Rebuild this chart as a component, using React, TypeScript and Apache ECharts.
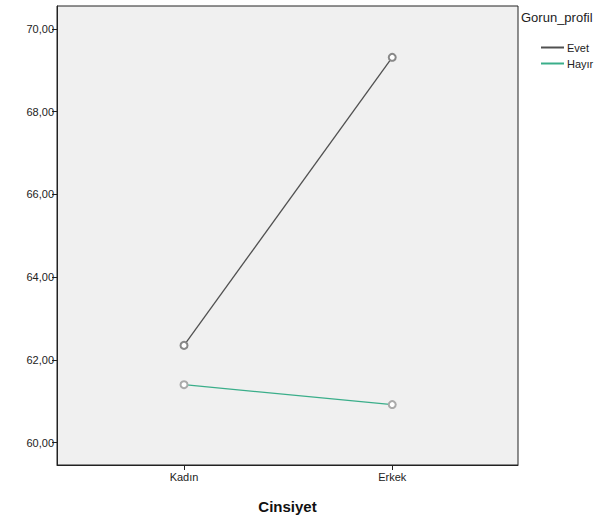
import React, { useEffect, useRef } from "react";
import * as echarts from "echarts";

const categories = ["Kadın", "Erkek"];
const seriesNames = ["Evet", "Hayır"];
const evetValues = [62.35, 69.31];
const hayirValues = [61.4, 60.92];
const yTicks = [60, 62, 64, 66, 68, 70];
const lineColors = ["#505050", "#3aae8a"];

export default function App() {
  const ref = useRef<HTMLDivElement>(null);
  useEffect(() => {
    document.body.style.margin = "0";
    const chart = echarts.init(ref.current!, null, { renderer: "svg" });
    const font = "'Liberation Sans', Arial, sans-serif";
    chart.setOption({
      animation: false,
      backgroundColor: "#ffffff",
      grid: {
        left: 57,
        right: 89,
        top: 6,
        bottom: 58,
        show: true,
        backgroundColor: "#f0f0f0",
        borderColor: "#222",
        borderWidth: 1,
      },
      xAxis: {
        type: "value",
        min: -0.61,
        max: 1.604,
        name: "Cinsiyet",
        nameLocation: "middle",
        nameGap: 34,
        nameTextStyle: { fontFamily: font, fontSize: 15, fontWeight: "bold", color: "#111" },
        axisLine: { show: true, onZero: false, lineStyle: { color: "#222", width: 1 } },
        axisTick: { show: true, customValues: [0, 1], length: 5, lineStyle: { color: "#222" } },
        axisLabel: {
          customValues: [0, 1],
          formatter: (v: number) => categories[Math.round(v)] ?? "",
          fontFamily: font,
          fontSize: 11,
          color: "#222",
          margin: 6,
        },
        splitLine: { show: false },
      },
      yAxis: {
        type: "value",
        min: 59.46,
        max: 70.55,
        axisLine: { show: true, onZero: false, lineStyle: { color: "#222", width: 1 } },
        axisTick: { show: true, customValues: yTicks, length: 5, lineStyle: { color: "#222" } },
        axisLabel: {
          customValues: yTicks,
          formatter: (v: number) => v.toFixed(2).replace(".", ","),
          fontFamily: font,
          fontSize: 11,
          color: "#222",
          margin: 3,
        },
        splitLine: { show: false },
      },
      legend: {
        orient: "vertical",
        left: 536,
        top: 37,
        itemWidth: 23,
        itemHeight: 2,
        itemGap: 5,
        icon: "rect",
        textStyle: { fontFamily: font, fontSize: 11, color: "#222", padding: [0, 0, 0, -2] },
        data: seriesNames.map((n, i) => ({ name: n, itemStyle: { color: lineColors[i] } })),
      },
      graphic: [
        {
          type: "text",
          left: 521,
          top: 11,
          style: { text: "Gorun_profil", fontFamily: font, fontSize: 13, fill: "#222" },
        },
      ],
      series: [
        {
          name: seriesNames[0],
          type: "line",
          data: evetValues.map((v, i) => [i, v]),
          symbol: "emptyCircle",
          symbolSize: 7,
          lineStyle: { color: lineColors[0], width: 1.3 },
          itemStyle: { color: "#888", borderWidth: 1 },
        },
        {
          name: seriesNames[1],
          type: "line",
          data: hayirValues.map((v, i) => [i, v]),
          symbol: "emptyCircle",
          symbolSize: 7,
          lineStyle: { color: lineColors[1], width: 1.3 },
          itemStyle: { color: "#aaa", borderWidth: 1 },
        },
      ],
    });
    return () => chart.dispose();
  }, []);
  return <div ref={ref} style={{ width: 607, height: 523 }} />;
}
